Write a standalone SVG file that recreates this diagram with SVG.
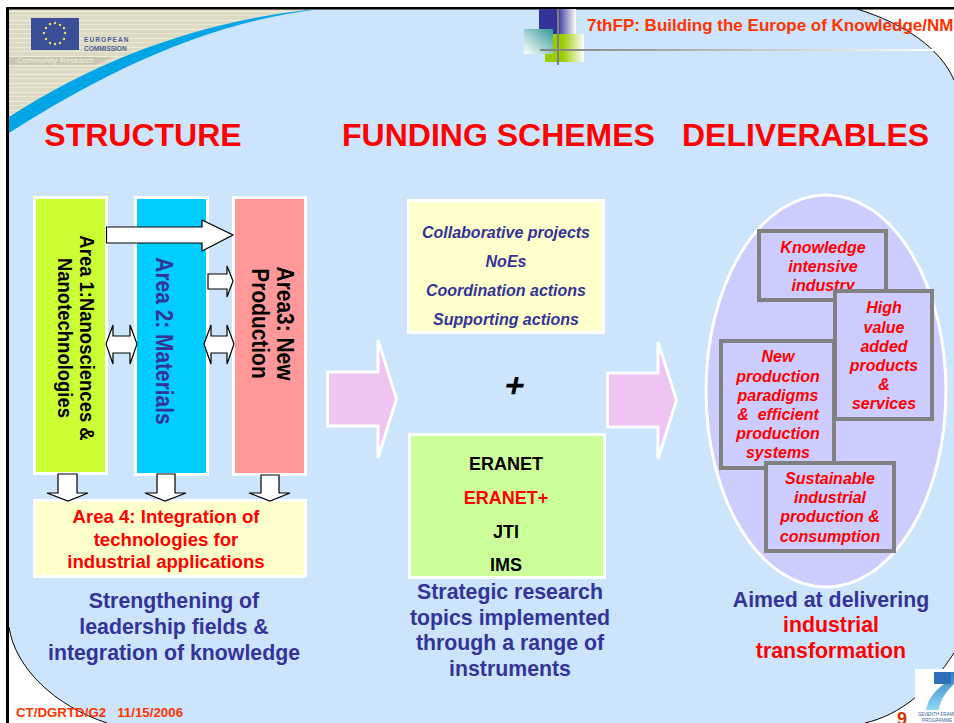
<svg xmlns="http://www.w3.org/2000/svg" width="954" height="723" viewBox="0 0 954 723">
<style>
text{font-family:"Liberation Sans",Arial,sans-serif;font-weight:bold;text-anchor:middle}
.h{font-size:32px;fill:#ff0000}
.b{font-size:21.300px;fill:#333399}
.br{font-size:21.300px;fill:#ff0000}
.v{font-size:21px;fill:#000}
.vl{font-size:23.500px;fill:#000}
.d{font-size:16px;font-style:italic;fill:#ff0000}
.f{font-size:16px;font-style:italic;fill:#333399}
.e{font-size:18px;fill:#000}
.r{font-size:18.600px;fill:#ff0000}
.a{fill:#fff;stroke:#000;stroke-width:1.2}
.w{stroke:#fff;stroke-width:3}
.g{fill:#ccccff;stroke:#808080;stroke-width:4}
.p{fill:#f0c4f0;stroke:#fff;stroke-width:3}
</style>
<defs>
<linearGradient id="fadeBlue"><stop offset="0.5" stop-color="#333399"/><stop offset="1" stop-color="#fff"/></linearGradient>
<linearGradient id="fadeGreen"><stop offset="0.45" stop-color="#99cc00"/><stop offset="1" stop-color="#fff"/></linearGradient>
<linearGradient id="fadeTeal" x1="1" y1="0" x2="0" y2="1"><stop offset="0" stop-color="#339999"/><stop offset="1" stop-color="#fff"/></linearGradient>
<linearGradient id="fadeLine"><stop offset="0" stop-color="#808080"/><stop offset="1" stop-color="#fff"/></linearGradient>
<linearGradient id="seven" x1="0" y1="0" x2="0" y2="1"><stop offset="0" stop-color="#2f80c5"/><stop offset="1" stop-color="#8fd8f4"/></linearGradient>
<pattern id="stripes" width="8" height="9" patternUnits="userSpaceOnUse"><rect width="8" height="9" fill="#dcdac2"/><rect y="2" width="8" height="1" fill="#eeecdc"/><rect y="6" width="8" height="1" fill="#e8e6d2"/></pattern>
</defs>
<rect width="954" height="723" fill="#fff"/>
<g id="slide-bg">
<path d="M9 9H857C905 24 940 48 954 80V653C930 690 900 715 865 723H107C55 706 15 668 9 627Z" fill="#cce4fc"/>
<path d="M857 9C905 24 940 48 954 80M954 653C930 690 900 715 865 723M107 723C55 706 15 668 9 627" fill="none" stroke="#000" stroke-width="1"/>
<path d="M9 9H310L307 10C200 22 100 58 9 117Z" fill="url(#stripes)"/>
<path d="M9 117C100 58 200 22 307 10H312C200 25 100 75 9 133Z" fill="#00a5e5"/>
<rect x="6" y="7" width="948" height="2.500" fill="#000"/>
<rect x="6" y="7" width="3" height="716" fill="#000"/>
</g>
<g id="ec-logo">
<rect x="31" y="18" width="48" height="32" fill="#3a4f98"/>
<g fill="#f5e04a"><circle cx="55" cy="23" r="1.200"/><circle cx="60" cy="25" r="1.200"/><circle cx="64" cy="28" r="1.200"/><circle cx="65" cy="33" r="1.200"/><circle cx="64" cy="39" r="1.200"/><circle cx="60" cy="43" r="1.200"/><circle cx="55" cy="44" r="1.200"/><circle cx="50" cy="43" r="1.200"/><circle cx="46" cy="39" r="1.200"/><circle cx="44" cy="33" r="1.200"/><circle cx="46" cy="28" r="1.200"/><circle cx="50" cy="24" r="1.200"/></g>
<text x="84" y="42" style="font-size:6.500px;text-anchor:start;fill:#4a5a90;letter-spacing:1.100px">EUROPEAN</text>
<text x="84" y="50.500" style="font-size:6.500px;text-anchor:start;fill:#4a5a90">COMMISSION</text>
<path d="M9 57H113L95 65H9Z" fill="#c8c6ae"/>
<text x="17" y="63" style="font-size:7.500px;font-weight:normal;text-anchor:start;fill:#f4f4ea;letter-spacing:.3px">Community Research</text>
</g>
<g id="header">
<rect x="539" y="9" width="37" height="25" fill="url(#fadeBlue)"/>
<rect x="545" y="34" width="39" height="28" fill="url(#fadeGreen)"/>
<rect x="524" y="29" width="29" height="25" fill="url(#fadeTeal)"/>
<rect x="557" y="9" width="2" height="56" fill="#808080"/>
<rect x="540" y="49" width="400" height="2" fill="url(#fadeLine)"/>
<text x="587" y="31" style="font-size:17px;fill:#ff3300;text-anchor:start">7thFP: Building the Europe of Knowledge/NM</text>
</g>
<g id="headings">
<text class="h" x="143" y="146">STRUCTURE</text>
<text class="h" x="498.500" y="146">FUNDING SCHEMES</text>
<text class="h" x="805.500" y="146">DELIVERABLES</text>
</g>
<g id="area1"><rect class="w" x="34.500" y="197.500" width="72" height="276" fill="#ccff33"/>
<text class="v" transform="translate(80 338) rotate(90) scale(.88 1)">Area 1:Nanosciences &amp;</text>
<text class="v" transform="translate(58 338) rotate(90) scale(.88 1)">Nanotechnologies</text></g>
<g id="area2"><rect class="w" x="135.500" y="197.500" width="72" height="277" fill="#00ccff"/>
<text class="vl" style="fill:#333399" transform="translate(156 341) rotate(90) scale(.89 1)">Area 2: Materials</text></g>
<g id="area3"><rect class="w" x="233.500" y="197.500" width="72" height="277" fill="#ff9999"/>
<text class="vl" transform="translate(277 323.500) rotate(90) scale(.89 1)">Area3: New</text>
<text class="vl" transform="translate(252 323.500) rotate(90) scale(.89 1)">Production</text></g>
<g id="area4"><rect class="w" x="34.500" y="500.500" width="271" height="76" fill="#ffffcc"/>
<text class="r" x="166" y="523">Area 4: Integration of</text>
<text class="r" x="166" y="546">technologies for</text>
<text class="r" x="166" y="568">industrial applications</text></g>
<g id="connectors">
<path class="a" d="M106.500 227H202V220L233 235L202 251V243H106.500Z"/>
<path class="a" d="M208 274H227V266L233 281L227 297V289H208Z"/>
<path class="a" d="M106 344L113 325V336H130V325L137 344L130 364V353H113V364Z"/>
<path class="a" d="M204 344L211 325V336H227V325L234 344L227 364V353H211V364Z"/>
<path class="a" d="M58 474H77V493H88L68 501L47 493H58Z"/>
<path class="a" d="M157 474H175V493H186L165 501L145 493H157Z"/>
<path class="a" d="M261 475H279V493H290L270 501L249 493H261Z"/>
<path class="p" d="M327.500 372H378V340L396.500 399L378 458V426H327.500Z"/>
<path class="p" d="M607.500 373H658V342L676.500 400L658 459V427H607.500Z"/>
</g>
<g id="structure-caption">
<text class="b" x="174" y="608">Strengthening of</text>
<text class="b" x="174" y="634">leadership fields &amp;</text>
<text class="b" x="174" y="660">integration of knowledge</text>
</g>
<g id="schemes"><rect class="w" x="408.500" y="200.500" width="195" height="132" fill="#ffffcc"/>
<text class="f" x="506" y="238">Collaborative projects</text>
<text class="f" x="506" y="267">NoEs</text>
<text class="f" x="506" y="296">Coordination actions</text>
<text class="f" x="506" y="325">Supporting actions</text></g>
<g id="plus"><text transform="translate(512 397) skewX(-12)" style="font-size:34px;font-style:italic;fill:#000">+</text></g>
<g id="instruments"><rect class="w" x="409.500" y="434.500" width="195" height="143" fill="#ccff99"/>
<text class="e" x="506" y="470">ERANET</text>
<text class="e" style="fill:#ff0000" x="506" y="504">ERANET+</text>
<text class="e" x="506" y="538">JTI</text>
<text class="e" x="506" y="571">IMS</text></g>
<g id="schemes-caption">
<text class="b" x="510" y="599">Strategic research</text>
<text class="b" x="510" y="625">topics implemented</text>
<text class="b" x="510" y="650">through a range of</text>
<text class="b" x="510" y="676">instruments</text>
</g>
<g id="deliverables-oval"><ellipse cx="826" cy="391" rx="120" ry="196" fill="#ccccff" stroke="#fff" stroke-width="3"/></g>
<g id="d-knowledge"><rect class="g" x="759" y="231" width="127" height="69"/>
<text class="d" x="823" y="253">Knowledge</text><text class="d" x="823" y="272">intensive</text><text class="d" x="823" y="291">industry</text></g>
<g id="d-new"><rect class="g" x="721" y="341" width="113" height="127"/>
<text class="d" x="778" y="362">New</text><text class="d" x="778" y="382">production</text><text class="d" x="778" y="401">paradigms</text><text class="d" x="778" y="420" xml:space="preserve">&amp;  efficient</text><text class="d" x="778" y="439">production</text><text class="d" x="778" y="458">systems</text></g>
<g id="d-high"><rect class="g" x="835" y="291" width="97" height="128"/>
<text class="d" x="884" y="313">High</text><text class="d" x="884" y="333">value</text><text class="d" x="884" y="352">added</text><text class="d" x="884" y="371">products</text><text class="d" x="884" y="390">&amp;</text><text class="d" x="884" y="409">services</text></g>
<g id="d-sustainable"><rect class="g" x="766" y="463" width="128" height="88"/>
<text class="d" x="830" y="484">Sustainable</text><text class="d" x="830" y="503">industrial</text><text class="d" x="830" y="522">production &amp;</text><text class="d" x="830" y="542">consumption</text></g>
<g id="deliverables-caption">
<text class="b" x="831" y="607">Aimed at delivering</text>
<text class="br" x="831" y="632">industrial</text>
<text class="br" x="831" y="658">transformation</text>
</g>
<g id="footer">
<text x="16" y="717" xml:space="preserve" style="font-size:13.300px;fill:#ff3300;text-anchor:start">CT/DGRTD/G2   11/15/2006</text>
<text x="902" y="725" style="font-size:18px;fill:#cc3300">9</text>
</g>
<g id="fp7-logo">
<rect x="915" y="669" width="39" height="54" fill="#fff"/>
<path d="M934 672H954V684C946 692 940 700 939 710H926C928 698 936 690 944 684H934Z" fill="url(#seven)"/>
<rect x="934" y="672" width="17" height="12" fill="#2f6fb5"/>
<text x="918" y="716" style="font-size:4.500px;font-weight:normal;text-anchor:start;fill:#336699">SEVENTH FRAMEW</text>
<text x="937" y="722" style="font-size:4.500px;font-weight:normal;fill:#336699">PROGRAMME</text>
</g>
</svg>
